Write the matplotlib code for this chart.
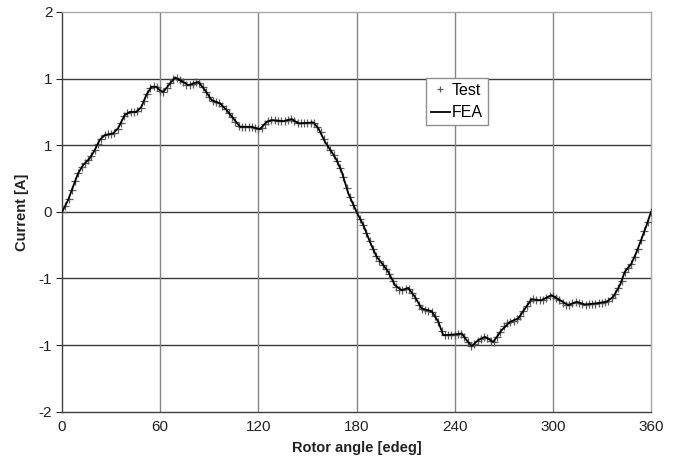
import numpy as np
import matplotlib
matplotlib.use("Agg")
import matplotlib.pyplot as plt
from matplotlib.ticker import FormatStrFormatter

plt.rcParams['font.family'] = ['Liberation Sans', 'DejaVu Sans']

# Measured phase current, one sample every 2 electrical degrees (0..360)
test_angle = list(range(0, 361, 2))
test_current = [
    0.00, 0.06, 0.13, 0.22, 0.31, 0.39, 0.45, 0.49, 0.52, 0.56,
    0.62, 0.68, 0.73, 0.77, 0.78, 0.78, 0.79, 0.83, 0.89, 0.96,
    0.99, 1.00, 1.00, 1.01, 1.04, 1.11, 1.18, 1.24, 1.26, 1.25,
    1.21, 1.20, 1.24, 1.29, 1.33, 1.34, 1.32, 1.30, 1.27, 1.27,
    1.28, 1.30, 1.29, 1.25, 1.20, 1.15, 1.11, 1.10, 1.09, 1.06,
    1.03, 0.99, 0.95, 0.90, 0.86, 0.85, 0.85, 0.85, 0.85, 0.84,
    0.83, 0.84, 0.88, 0.91, 0.92, 0.92, 0.91, 0.91, 0.91, 0.92,
    0.93, 0.91, 0.89, 0.89, 0.89, 0.89, 0.89, 0.89, 0.85, 0.80,
    0.73, 0.67, 0.62, 0.57, 0.51, 0.44, 0.35, 0.24, 0.15, 0.07,
    0.00, -0.07, -0.13, -0.21, -0.29, -0.37, -0.44, -0.49, -0.53, -0.57,
    -0.62, -0.69, -0.75, -0.78, -0.78, -0.77, -0.77, -0.81, -0.86, -0.93,
    -0.97, -0.98, -0.99, -1.00, -1.04, -1.10, -1.19, -1.23, -1.23, -1.23,
    -1.23, -1.22, -1.22, -1.25, -1.30, -1.34, -1.32, -1.29, -1.27, -1.25,
    -1.26, -1.29, -1.30, -1.25, -1.20, -1.14, -1.11, -1.10, -1.09, -1.07,
    -1.04, -0.99, -0.94, -0.89, -0.87, -0.88, -0.88, -0.88, -0.86, -0.84,
    -0.84, -0.86, -0.88, -0.91, -0.93, -0.93, -0.91, -0.90, -0.91, -0.92,
    -0.93, -0.92, -0.92, -0.92, -0.91, -0.91, -0.90, -0.89, -0.86, -0.82,
    -0.76, -0.69, -0.60, -0.56, -0.52, -0.45, -0.37, -0.28, -0.19, -0.10,
    0.00,
]

# Finite-element prediction
fea_angle = [
    0, 0.6, 3.7, 6.7, 9.8, 12.8, 16.9, 20, 23, 26.1, 31.2, 34.2, 38.3, 41.4,
    45.4, 48.5, 51.5, 54.6, 57.6, 59.7, 61.9, 66, 69.1, 72.1, 77.2, 83.3,
    87.4, 91.5, 96.6, 100.6, 104.7, 108.8, 115.9, 121, 125.1, 128.2, 135.3,
    140.4, 144.5, 153.6, 156.7, 160.8, 164.8, 167.9, 171, 175, 180, 184.2,
    188.2, 192.3, 196.4, 199.4, 203.5, 207.6, 211.6, 215.7, 219.8, 225.9,
    230, 233, 240.2, 244.3, 247.3, 250.4, 254.4, 258.5, 263.6, 268.7, 273.8,
    278.9, 283, 287, 291.1, 293.1, 299.2, 304.3, 309.4, 314.5, 319.6, 325.7,
    332.8, 336.9, 341, 344, 348.1, 351.2, 354.3, 357.3, 360,
]
fea_current = [
    0.0, 0.017, 0.117, 0.25, 0.384, 0.467, 0.534, 0.618, 0.718, 0.768, 0.785,
    0.835, 0.968, 1.0, 1.0, 1.05, 1.168, 1.251, 1.251, 1.218, 1.20, 1.285,
    1.345, 1.318, 1.268, 1.30, 1.218, 1.118, 1.085, 1.018, 0.935, 0.851,
    0.851, 0.828, 0.90, 0.918, 0.908, 0.928, 0.885, 0.895, 0.835, 0.70, 0.60,
    0.517, 0.40, 0.184, 0.0, -0.133, -0.30, -0.45, -0.534, -0.60, -0.734,
    -0.784, -0.761, -0.851, -0.967, -0.994, -1.10, -1.234, -1.227, -1.217,
    -1.284, -1.344, -1.284, -1.251, -1.301, -1.184, -1.101, -1.067, -0.967,
    -0.874, -0.884, -0.884, -0.834, -0.884, -0.934, -0.90, -0.927, -0.917,
    -0.90, -0.851, -0.734, -0.60, -0.517, -0.40, -0.267, -0.133, 0.0,
]

x_ticks = [0, 60, 120, 180, 240, 300, 360]
y_ticks = [-2, -4 / 3, -2 / 3, 0, 2 / 3, 4 / 3, 2]

fig = plt.figure(figsize=(6.77, 4.65), dpi=100)
ax = fig.add_axes([0.0916, 0.1146, 0.8700, 0.8596])

ax.plot(test_angle, test_current, linestyle='none', marker='+',
        markersize=6, markeredgewidth=0.9, color='#5c5c5c', label='Test',
        zorder=3)
ax.plot(fea_angle, fea_current, color='black', linewidth=1.3, label='FEA',
        zorder=4)

ax.set_xlim(0, 360)
ax.set_ylim(-2, 2)
ax.set_xticks(x_ticks)
ax.set_yticks(y_ticks)
ax.yaxis.set_major_formatter(FormatStrFormatter('%.0f'))

# Grid: darker horizontal lines, lighter vertical lines
for y in y_ticks[1:-1]:
    ax.axhline(y, color='#3a3a3a', linewidth=1.0, zorder=1)
for x in x_ticks[1:-1]:
    ax.axvline(x, color='#858585', linewidth=1.0, zorder=1)

ax.tick_params(axis='x', length=0, pad=6, labelsize=11, colors='#222222')
ax.tick_params(axis='y', length=4, width=0.8, pad=3, labelsize=11,
               colors='#222222', direction='out')

for side in ('left', 'bottom'):
    ax.spines[side].set_color('#404040')
    ax.spines[side].set_linewidth(1.0)
for side in ('top', 'right'):
    ax.spines[side].set_color('#a8a8a8')
    ax.spines[side].set_linewidth(1.0)

ax.set_xlabel('Rotor angle [edeg]', fontsize=10.5, fontweight='bold',
              labelpad=5, color='#222222')
ax.set_ylabel('Current [A]', fontsize=10.5, fontweight='bold',
              labelpad=7, color='#222222')

leg = ax.legend(loc='upper left', bbox_to_anchor=(0.6175, 0.8356),
                borderaxespad=0, fontsize=11.5, frameon=True, fancybox=False,
                handlelength=1.2, handletextpad=0.15, borderpad=0.3,
                labelspacing=0.5, markerscale=0.7)
leg.get_frame().set_edgecolor('#909090')
leg.get_frame().set_linewidth(1.0)
leg.get_frame().set_facecolor('white')
leg.get_frame().set_alpha(1.0)
leg.set_zorder(5)

fig.savefig('out.png', dpi=100)
